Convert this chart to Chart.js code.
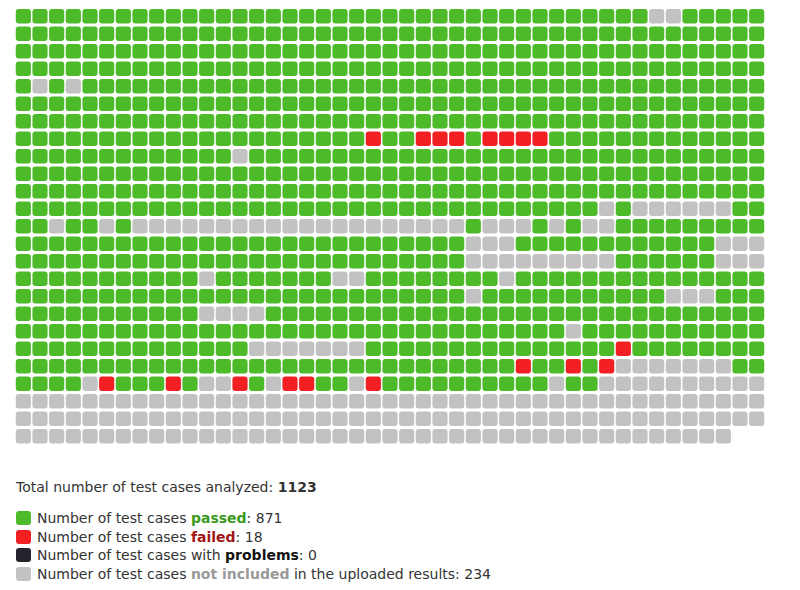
<!DOCTYPE html>
<html>
<head>
<meta charset="utf-8">
<script src="https://cdn.jsdelivr.net/npm/chart.js@4.4.1/dist/chart.umd.min.js"></script>
<style>
  html, body { margin: 0; padding: 0; background: #ffffff; }
  #wrap { position: absolute; left: 0; top: 0; width: 800px; height: 450px; }
  .txt { position: absolute; left: 16px; font-family: 'DejaVu Sans', Verdana, sans-serif;
         font-size: 14px; color: #333333; white-space: nowrap; height: 18px; line-height: 18px; }
  .sw { display: inline-block; width: 15px; height: 14px; border-radius: 3px;
        vertical-align: top; margin-top: 2px; margin-right: 6px; }
  b { font-weight: bold; }
</style>
</head>
<body>
<div id="wrap"><canvas id="chart"></canvas></div>
<div id="total" class="txt" style="top:478px"></div>
<div id="legend"></div>
<script>
// ---- data ----
const categories = ['passed', 'failed', 'problems', 'not included'];
const categoryCodes = ['p', 'f', 'x', 'n'];
const counts = [871, 18, 0, 234];
const labelPrefixes = ['Number of test cases ', 'Number of test cases ', 'Number of test cases with ', 'Number of test cases '];
const labelSuffixes = ['', '', '', ' in the uploaded results'];

// one string per grid row, one letter per test case (p passed, f failed, n not included)
const gridRows = [
  "ppppp ppppp ppppp ppppp ppppp ppppp ppppp pppnn ppppp",
  "ppppp ppppp ppppp ppppp ppppp ppppp ppppp ppppp ppppp",
  "ppppp ppppp ppppp ppppp ppppp ppppp ppppp ppppp ppppp",
  "ppppp ppppp ppppp ppppp ppppp ppppp ppppp ppppp ppppp",
  "pnpnp ppppp ppppp ppppp ppppp ppppp ppppp ppppp ppppp",
  "ppppp ppppp ppppp ppppp ppppp ppppp ppppp ppppp ppppp",
  "ppppp ppppp ppppp ppppp ppppp ppppp ppppp ppppp ppppp",
  "ppppp ppppp ppppp ppppp pfppf ffpff ffppp ppppp ppppp",
  "ppppp ppppp pppnp ppppp ppppp ppppp ppppp ppppp ppppp",
  "ppppp ppppp ppppp ppppp ppppp ppppp ppppp ppppp ppppp",
  "ppppp ppppp ppppp ppppp ppppp ppppp ppppp ppppp ppppp",
  "ppppp ppppp ppppp ppppp ppppp ppppp ppppp npnnn nnnpp",
  "ppnpp npnnn nnnnn nnnnn nnnnn nnpnn npnpn npppp ppppp",
  "ppppp ppppp ppppp ppppp ppppp ppnnn ppppp ppppp ppnnn",
  "ppppp ppppp ppppp ppppp ppppp ppnnn nnnnn npppp ppnnn",
  "ppppp ppppp pnppp ppppn npppp ppppn ppppp ppppp ppppp",
  "ppppp ppppp ppppp ppppp ppppp ppnpp ppppp ppppn nnppp",
  "ppppp ppppp pnnnn ppppp ppppp ppppp ppppp ppppp ppppp",
  "ppppp ppppp ppppp ppppp ppppp ppppp pppnp ppppp ppppp",
  "ppppp ppppp ppppn nnnnn npppp ppppp ppppp pfppp ppppp",
  "ppppp ppppp ppppp ppppp ppppp ppppp fppfp fnnnn nnnpp",
  "ppppn fpppf pnnfp nffpp nfppp ppppp ppnpp nnnnn nnnnn",
  "nnnnn nnnnn nnnnn nnnnn nnnnn nnnnn nnnnn nnnnn nnnnn",
  "nnnnn nnnnn nnnnn nnnnn nnnnn nnnnn nnnnn nnnnn nnnnn",
  "nnnnn nnnnn nnnnn nnnnn nnnnn nnnnn nnnnn nnnnn nnn"
];

// ---- styles ----
const cellColors = ['#4dba29', '#f21f23', '#24232b', '#c2c2c2'];
const wordColors = ['#3a9a1c', '#a01414', '#111111', '#9a9a9a'];

// ---- build cells ----
const cellsByCode = {};
categoryCodes.forEach(c => cellsByCode[c] = []);
gridRows.forEach((row, r) => {
  const cells = row.replace(/ /g, '');
  for (let c = 0; c < cells.length; c++) {
    cellsByCode[cells[c]].push({ x: c, y: [r - 0.4, r + 0.4] });
  }
});

const nCols = 45, nRows = gridRows.length;

new Chart(document.getElementById('chart'), {
  type: 'bar',
  data: {
    datasets: categories.map((name, i) => ({
      label: name,
      data: cellsByCode[categoryCodes[i]],
      backgroundColor: cellColors[i],
      grouped: false,
      barThickness: 14.5,
      borderRadius: 3,
      borderSkipped: false,
      borderWidth: 0
    }))
  },
  options: {
    responsive: true,
    maintainAspectRatio: false,
    animation: false,
    layout: { padding: { left: 15, right: 35, top: 7.5, bottom: 5 } },
    plugins: { legend: { display: false }, tooltip: { enabled: false } },
    scales: {
      x: { type: 'linear', min: -0.5, max: nCols - 0.5, display: false, offset: false },
      y: { type: 'linear', min: -0.5, max: nRows - 0.5, reverse: true, display: false }
    }
  }
});

// ---- text summary & legend ----
const total = counts.reduce((a, b) => a + b, 0);
document.getElementById('total').innerHTML = 'Total number of test cases analyzed: <b>' + total + '</b>';
const legend = document.getElementById('legend');
categories.forEach((name, i) => {
  const d = document.createElement('div');
  d.className = 'txt';
  d.style.top = (509 + i * 18.6) + 'px';
  d.innerHTML = '<span class="sw" style="background:' + cellColors[i] + '"></span>' +
    labelPrefixes[i] + '<b style="color:' + wordColors[i] + '">' + name + '</b>' + labelSuffixes[i] + ': ' + counts[i];
  legend.appendChild(d);
});
</script>
</body>
</html>
